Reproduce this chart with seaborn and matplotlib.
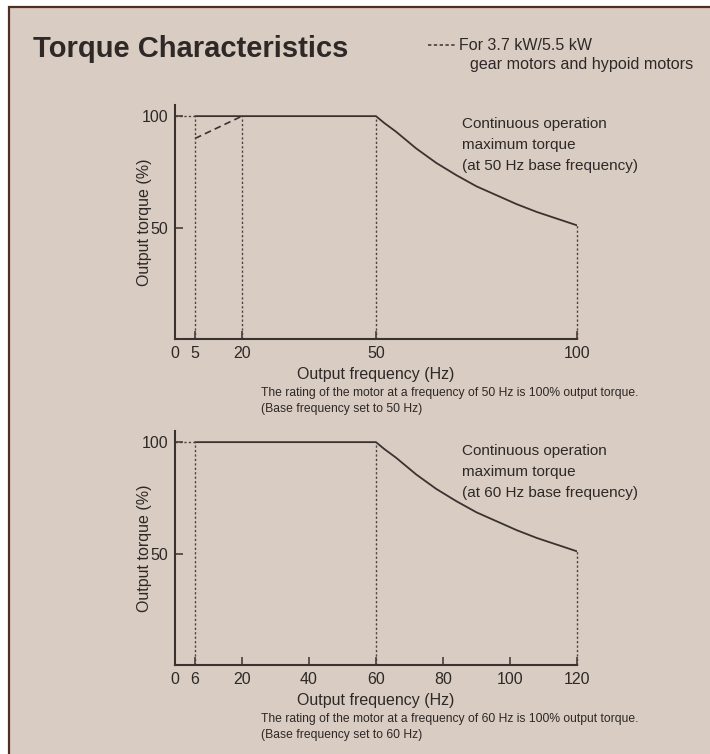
import numpy as np
import pandas as pd
import matplotlib
matplotlib.use("Agg")
import matplotlib.pyplot as plt
from matplotlib.patches import Rectangle
from matplotlib.lines import Line2D
import seaborn as sns

# ---- data ---------------------------------------------------------------
# 50 Hz base frequency
freq_50 = [5, 20, 50, 52, 55, 60, 65, 70, 75, 80, 85, 90, 95, 100]
torque_50 = [100, 100, 100, 97, 93, 85.5, 79, 73.5, 68.5, 64.5, 60.5, 57, 54, 51]
gear_freq_50 = [5, 20]
gear_torque_50 = [90, 100]
ticks_50 = [0, 5, 20, 50, 100]
guide_freq_50 = [5, 20, 50, 100]
guide_torque_50 = [100, 100, 100, 51]

# 60 Hz base frequency
freq_60 = [6, 60, 62.4, 66, 72, 78, 84, 90, 96, 102, 108, 114, 120]
torque_60 = [100, 100, 97, 93, 85.5, 79, 73.5, 68.5, 64.5, 60.5, 57, 54, 51]
ticks_60 = [0, 6, 20, 40, 60, 80, 100, 120]
guide_freq_60 = [6, 60, 120]
guide_torque_60 = [100, 100, 51]

# schematic spacing of the 50 Hz frequency axis (Hz -> drawn position)
axis_knots_hz = [0, 5, 20, 50, 100]
axis_knots_pos = [0, 6, 20, 60, 120]

y_ticks = [50, 100]

# ---- style --------------------------------------------------------------
sns.set_theme(style="ticks")
plt.rcParams["font.family"] = ["Liberation Sans", "DejaVu Sans"]

BG = "#d9cdc3"
INK = "#2e2826"
LINE = "#3a3230"
GUIDE = "#4a4240"

W, H = 710, 754
fig = plt.figure(figsize=(W / 100, H / 100), dpi=100, facecolor="white")

# panel background with a brown frame on top and left
fig.patches.append(Rectangle((9 / W, -0.05), 1.2, (H - 7) / H + 0.05,
                             transform=fig.transFigure, facecolor=BG,
                             edgecolor="#4e2f22", linewidth=1.6, zorder=-5))


def fx(x):
    return x / W


def fy(y):
    return 1 - y / H


def setup_axes(top_px, bottom_px):
    ax = fig.add_axes([fx(175), fy(bottom_px), (577 - 175) / W,
                       (bottom_px - top_px) / H])
    ax.set_facecolor("none")
    ax.set_zorder(2)
    for s in ("top", "right"):
        ax.spines[s].set_visible(False)
    for s in ("left", "bottom"):
        ax.spines[s].set_color(LINE)
        ax.spines[s].set_linewidth(1.5)
    ax.tick_params(direction="in", length=6, width=1.1, colors=LINE,
                   labelcolor=INK, labelsize=11.5)
    ax.tick_params(axis="x", pad=5)
    ax.tick_params(axis="y", pad=5)
    ax.set_ylim(0, 105)
    ax.set_yticks(y_ticks)
    return ax


def label_axes(ax):
    ax.set_ylabel("Output torque (%)", fontsize=11.5, color=INK)
    ax.yaxis.set_label_coords(-0.058, 0.5)
    ax.set_xlabel("Output frequency (Hz)", fontsize=11.5, color=INK)
    ax.xaxis.set_label_coords(0.5, -0.118)


dot = (0, (1.6, 1.6))

# ---- 50 Hz chart --------------------------------------------------------
ax1 = setup_axes(105, 339)
fwd = lambda x: np.interp(x, axis_knots_hz, axis_knots_pos)
inv = lambda p: np.interp(p, axis_knots_pos, axis_knots_hz)
ax1.set_xscale("function", functions=(fwd, inv))

df50 = pd.DataFrame({"f": freq_50, "t": torque_50})
sns.lineplot(data=df50, x="f", y="t", ax=ax1, color=LINE, linewidth=1.3,
             sort=False, estimator=None)
dfg = pd.DataFrame({"f": gear_freq_50, "t": gear_torque_50})
sns.lineplot(data=dfg, x="f", y="t", ax=ax1, color=LINE, linewidth=1.2,
             linestyle=(0, (4, 2.5)), sort=False, estimator=None)
ax1.vlines(guide_freq_50, 0, guide_torque_50, colors=GUIDE, linewidth=1.0,
           linestyles=[dot], clip_on=False)
ax1.hlines(100, 0, guide_freq_50[0], colors=GUIDE, linewidth=1.0,
           linestyles=[dot])
ax1.set_xlim(0, 100)
ax1.set_ylim(0, 105)
ax1.set_xticks(ticks_50)
ax1.set_xticklabels([str(t) for t in ticks_50])
ax1.minorticks_off()
label_axes(ax1)

# ---- 60 Hz chart --------------------------------------------------------
ax2 = setup_axes(431, 665)

df60 = pd.DataFrame({"f": freq_60, "t": torque_60})
sns.lineplot(data=df60, x="f", y="t", ax=ax2, color=LINE, linewidth=1.3,
             sort=False, estimator=None)
ax2.vlines(guide_freq_60, 0, guide_torque_60, colors=GUIDE, linewidth=1.0,
           linestyles=[dot], clip_on=False)
ax2.hlines(100, 0, guide_freq_60[0], colors=GUIDE, linewidth=1.0,
           linestyles=[dot])
ax2.set_xlim(0, 120)
ax2.set_ylim(0, 105)
ax2.set_xticks(ticks_60)
label_axes(ax2)

# ---- texts --------------------------------------------------------------
fig.text(fx(33), fy(49), "Torque Characteristics", fontsize=21,
         fontweight="bold", color=INK, va="center", ha="left")

fig.add_artist(Line2D([fx(428), fx(456)], [fy(45), fy(45)], color=LINE,
                      linewidth=1.1, linestyle=(0, (2.2, 1.6))))
fig.text(fx(459), fy(45), "For 3.7 kW/5.5 kW", fontsize=11.5, color=INK,
         va="center", ha="left")
fig.text(fx(470), fy(64), "gear motors and hypoid motors", fontsize=11.6,
         color=INK, va="center", ha="left")

for base, y0 in (("50", 124), ("60", 451)):
    lines = ["Continuous operation", "maximum torque",
             f"(at {base} Hz base frequency)"]
    for i, s in enumerate(lines):
        fig.text(fx(462), fy(y0 + 21 * i), s, fontsize=11, color=INK,
                 va="center", ha="left")

for base, y0 in (("50", 393), ("60", 719)):
    fig.text(fx(261), fy(y0),
             f"The rating of the motor at a frequency of {base} Hz is 100% output torque.",
             fontsize=8.7, color=INK, va="center", ha="left")
    fig.text(fx(261), fy(y0 + 16), f"(Base frequency set to {base} Hz)",
             fontsize=8.7, color=INK, va="center", ha="left")

fig.savefig("out.png", dpi=100, facecolor=fig.get_facecolor())
